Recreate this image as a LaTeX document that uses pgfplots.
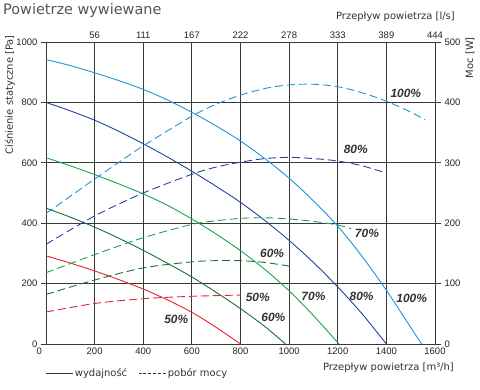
\documentclass[border=0pt]{standalone}
\usepackage{fontspec}
\setmainfont{DejaVu Sans}
\newfontfamily\arial{Liberation Sans}
\usepackage{pgfplots}
\pgfplotsset{compat=1.18}
\definecolor{cA}{HTML}{1E96D9}
\definecolor{cB}{HTML}{2444A0}
\definecolor{cC}{HTML}{18A64C}
\definecolor{cD}{HTML}{1B6E3A}
\definecolor{cE}{HTML}{E8212E}
\definecolor{gridc}{HTML}{3A3A3A}
\definecolor{txt}{HTML}{333333}
\definecolor{tck}{HTML}{222222}
\definecolor{ttl}{HTML}{555555}
\begin{document}
\begin{tikzpicture}
\useasboundingbox (-46bp,-46bp) rectangle (434bp,344bp);
\begin{axis}[name=main, at={(0,0)}, anchor=south west, scale only axis,
  width=389bp, height=302bp,
  xmin=0, xmax=1600, ymin=0, ymax=1000,
  xtick={0,200,...,1600}, ytick={0,200,...,1000},
  xticklabels={\makebox[0pt][r]{0\hspace{4bp}},200,400,600,800,1000,1200,1400,1600},
  grid=major, major grid style={draw=gridc, line width=0.8bp},
  axis line style={draw=gridc, line width=0.9bp},
  tick label style={font=\arial\fontsize{9.5}{11}\selectfont, text=tck},
  /pgf/number format/assume math mode=true, /pgf/number format/1000 sep={},
  xtick pos=bottom, ytick pos=left, ytick align=outside, major tick length=5bp,
  x tick style={draw=none}, y tick style={draw=gridc, line width=0.9bp},
  legend style={at={(axis description cs:0,0)}, anchor=west, xshift=-1bp, yshift=-29bp,
    draw=none, fill=none, inner sep=0pt, font=\fontsize{10}{12}\selectfont, text=txt,
    /tikz/every even column/.append style={column sep=9bp}},
  legend columns=2,
  legend image code/.code={\draw[#1] (0bp,0bp) -- (27bp,0bp);},
  every axis plot/.append style={line width=0.9bp},
  clip=false,
]
\addlegendimage{txt, line width=0.7bp}
\addlegendentry{wydajność}
\addlegendimage{txt, line width=0.7bp, dash pattern=on 3bp off 1.8bp}
\addlegendentry{pobór mocy}
% pressure curves
\addplot[cA, smooth] coordinates {(0,942) (100,922) (200,898) (300,872) (400,843) (500,808) (600,767) (700,722) (800,672) (900,614) (1000,549) (1100,474) (1200,390) (1300,290) (1400,178) (1500,55) (1545,0)};
\addplot[cB, smooth] coordinates {(0,800) (100,772) (200,741) (300,704) (400,663) (500,619) (600,572) (700,522) (800,469) (900,409) (1000,343) (1100,270) (1200,189) (1300,100) (1400,0)};
\addplot[cC, smooth] coordinates {(0,617) (100,590) (200,561) (300,530) (400,497) (500,459) (600,414) (700,364) (800,309) (900,247) (1000,176) (1100,94) (1205,0)};
\addplot[cD, smooth] coordinates {(0,450) (100,420) (200,387) (300,350) (400,310) (500,267) (600,222) (700,171) (800,117) (900,58) (985,0)};
\addplot[cE, smooth] coordinates {(0,292) (100,268) (200,242) (300,213) (400,182) (500,146) (600,105) (700,55) (800,0)};
% labels
\tikzset{pl/.style={font=\arial\bfseries\itshape\fontsize{12}{14}\selectfont, text=txt, inner sep=0pt}}
\node[pl] at (axis cs:1480,831) {100\%};
\node[pl] at (axis cs:1274,645) {80\%};
\node[pl] at (axis cs:1320,366) {70\%};
\node[pl] at (axis cs:930,300) {60\%};
\node[pl] at (axis cs:871,155) {50\%};
\node[pl] at (axis cs:935,87) {60\%};
\node[pl] at (axis cs:1100,158) {70\%};
\node[pl] at (axis cs:1298,158) {80\%};
\node[pl] at (axis cs:1504,150) {100\%};
\node[pl] at (axis cs:536,81) {50\%};
\end{axis}
\begin{axis}[at={(0,0)}, anchor=south west, scale only axis,
  width=389bp, height=302bp,
  xmin=0, xmax=1600, ymin=0, ymax=500,
  axis x line*=top, axis y line*=right,
  xtick={200,400,...,1600}, xticklabels={56,111,167,222,278,333,389,444},
  ytick={0,100,...,500},
  axis line style={draw=gridc, line width=0.9bp},
  tick label style={font=\arial\fontsize{9.5}{11}\selectfont, text=tck},
  /pgf/number format/assume math mode=true,
  ytick align=outside, major tick length=6bp,
  x tick style={draw=none}, y tick style={draw=gridc, line width=0.9bp},
  every axis plot/.append style={line width=0.9bp, dash pattern=on 8bp off 4bp},
]
\addplot[cA, smooth] coordinates {(0,216) (200,273) (400,328) (600,377) (700,397) (800,412) (900,423) (1000,429) (1100,430) (1200,426) (1300,416) (1400,402) (1500,384) (1560,371)};
\addplot[cB, smooth] coordinates {(0,165) (200,212) (400,250) (600,281) (700,293) (800,301) (900,307) (1000,309) (1100,307) (1200,303) (1300,295) (1400,283)};
\addplot[cC, smooth] coordinates {(0,118) (200,148) (400,176) (600,198) (700,204) (800,208) (900,209) (1000,207) (1100,203) (1200,197) (1255,191)};
\addplot[cD, smooth] coordinates {(0,82) (200,106) (400,126) (600,136) (700,138) (800,138) (900,135) (1000,129)};
\addplot[cE, smooth] coordinates {(0,53) (200,67) (400,75) (600,79) (800,81)};
\end{axis}
\node[anchor=base west, font=\fontsize{14.5}{17}\selectfont, text=ttl, inner sep=0pt] at (-43bp,329bp) {Powietrze wywiewane};
\node[anchor=base east, font=\fontsize{10}{12}\selectfont, text=txt, inner sep=0pt] at (409bp,324bp) {Przepływ powietrza [l/s]};
\node[anchor=base east, font=\fontsize{10}{12}\selectfont, text=txt, inner sep=0pt] at (408bp,-26bp) {Przepływ powietrza [m³/h]};
\node[anchor=east, rotate=90, font=\fontsize{10}{12}\selectfont, text=txt, inner sep=0pt] at (-36bp,309bp) {Ciśnienie statyczne [Pa]};
\node[anchor=east, rotate=90, font=\fontsize{10}{12}\selectfont, text=txt, inner sep=0pt] at (424bp,307bp) {Moc [W]};
\end{tikzpicture}
\end{document}
